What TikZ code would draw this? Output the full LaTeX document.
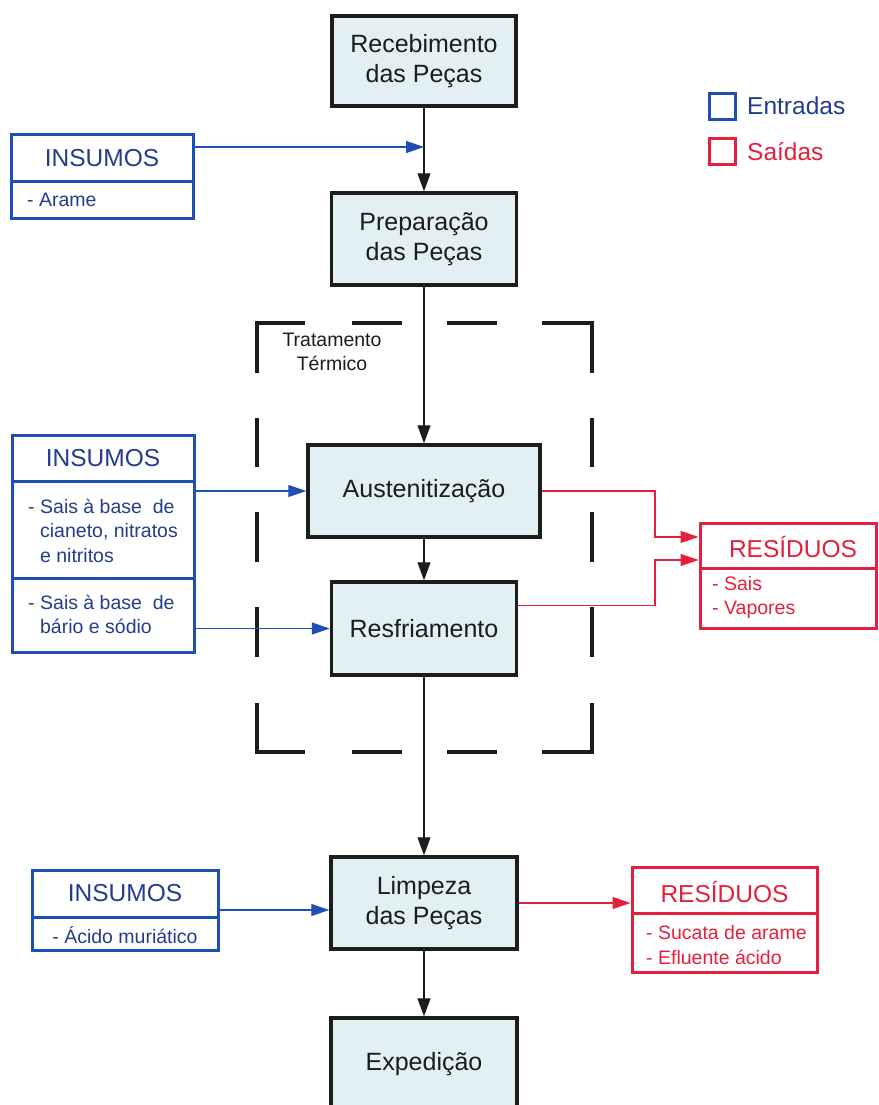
\documentclass[tikz,border=0pt]{standalone}
\usepackage{fontspec}
\setmainfont{Liberation Sans}
\usetikzlibrary{arrows.meta,calc}
\definecolor{inblue}{HTML}{1F4FB4}
\definecolor{intext}{HTML}{243C8C}
\definecolor{outred}{HTML}{E5203C}
\definecolor{procfill}{HTML}{E3F0F3}
\definecolor{ink}{HTML}{1C1C1C}
\begin{document}
\begin{tikzpicture}[x=1pt,y=-1pt,
  proc/.style={draw=ink, line width=3.5pt, fill=procfill, inner sep=0pt, align=center, text=ink,
    font=\fontsize{25}{30}\selectfont},
  inbox/.style={draw=inblue, line width=3pt, inner sep=0pt, fill=white},
  outbox/.style={draw=outred, line width=3pt, inner sep=0pt, fill=white},
  hdr/.style={inner sep=0pt, font=\fontsize{24.5}{28}\selectfont},
  body/.style={inner sep=0pt, align=left, font=\fontsize{19.5}{24.5}\selectfont},
  flow/.style={draw=ink, line width=1.2pt, -{Triangle[length=18pt,width=13pt]}},
  inflow/.style={draw=inblue, line width=1.2pt, -{Triangle[length=18pt,width=12pt]}},
  outflow/.style={draw=outred, line width=1.2pt, -{Triangle[length=18pt,width=12pt]}},
  frame/.style={draw=ink, line width=4pt, line join=miter},
  divin/.style={draw=inblue, line width=3pt},
  divout/.style={draw=outred, line width=3pt}
]
\useasboundingbox (0,0) rectangle (878,1105);
\fill[white] (0,0) rectangle (878,1105);
\clip (0,0) rectangle (878,1105);

% process boxes
\node[proc, minimum width=184pt, minimum height=90pt] (rec) at (424,61) {Recebimento\\das Peças};
\node[proc, minimum width=185pt, minimum height=92pt] (prep) at (424,239) {Preparação\\das Peças};
\node[proc, minimum width=232pt, minimum height=92pt] (aus) at (424,491) {Austenitização};
\node[proc, minimum width=185pt, minimum height=93pt] (res) at (424,628.5) {Resfriamento};
\node[proc, minimum width=186pt, minimum height=92pt] (limp) at (424,903) {Limpeza\\das Peças};
\node[proc, minimum width=186pt, minimum height=92pt] (exp) at (424,1064) {Expedição};

% dashed frame (Tratamento Térmico)
\draw[frame] (257,373) -- (257,323) -- (305,323);
\draw[frame] (352,323) -- (402,323);
\draw[frame] (447,323) -- (497,323);
\draw[frame] (542,323) -- (592,323) -- (592,373);
\draw[frame] (257,418) -- (257,467);
\draw[frame] (257,512) -- (257,562);
\draw[frame] (257,607) -- (257,657);
\draw[frame] (592,418) -- (592,467);
\draw[frame] (592,512) -- (592,562);
\draw[frame] (592,607) -- (592,657);
\draw[frame] (257,703) -- (257,752) -- (305,752);
\draw[frame] (352,752) -- (402,752);
\draw[frame] (447,752) -- (497,752);
\draw[frame] (542,752) -- (592,752) -- (592,703);
\node[body, align=center, text=ink] (tt) at (332,352) {Tratamento\\Térmico};

% INSUMOS 1
\node[inbox, minimum width=182pt, minimum height=83pt] (ins1) at (102,176.5) {};
\draw[divin] (ins1.west |- 0,181) -- (ins1.east |- 0,181);
\node[hdr, text=intext] (ins1h) at (102,158) {INSUMOS};
\node[body, text=intext, anchor=west] (ins1b) at (27,200) {- Arame};

% INSUMOS 2
\node[inbox, minimum width=182pt, minimum height=217pt] (ins2) at (103,543.5) {};
\draw[divin] (ins2.west |- 0,481) -- (ins2.east |- 0,481);
\draw[divin] (ins2.west |- 0,578) -- (ins2.east |- 0,578);
\node[hdr, text=intext] (ins2h) at (103,458) {INSUMOS};
\node[body, text=intext, anchor=west] (ins2b) at (28,533)
  {\begin{tabular}{@{}l@{\hspace{0.28em}}l@{}}-&Sais à base\ \ de\\ &cianeto, nitratos\\ &e nitritos\end{tabular}};
\node[body, text=intext, anchor=west] (ins2c) at (28,616.5)
  {\begin{tabular}{@{}l@{\hspace{0.28em}}l@{}}-&Sais à base\ \ de\\ &bário e sódio\end{tabular}};

% INSUMOS 3
\node[inbox, minimum width=186pt, minimum height=80pt] (ins3) at (125,910) {};
\draw[divin] (ins3.west |- 0,917) -- (ins3.east |- 0,917);
\node[hdr, text=intext] (ins3h) at (125,893) {INSUMOS};
\node[body, text=intext] (ins3b) at (125,935) {- Ácido muriático};

% RESIDUOS 1
\node[outbox, minimum width=176pt, minimum height=105pt] (res1) at (788,575.5) {};
\draw[divout] (res1.west |- 0,568) -- (res1.east |- 0,568);
\node[hdr, text=outred] (res1h) at (793,547) {RESÍDUOS};
\node[body, text=outred, anchor=west, align=left] (res1b) at (712,597.5) {- Sais\\- Vapores};

% RESIDUOS 2
\node[outbox, minimum width=185pt, minimum height=105pt] (res2) at (724.5,919.5) {};
\draw[divout] (res2.west |- 0,913) -- (res2.east |- 0,913);
\node[hdr, text=outred] (res2h) at (724.5,892) {RESÍDUOS};
\node[body, text=outred, anchor=west, align=left] (res2b) at (646,945) {- Sucata de arame\\- Efluente ácido};

% legend
\node[draw=inblue, line width=3pt, minimum width=26pt, minimum height=26pt, inner sep=0pt] (lgin) at (722.5,106.5) {};
\node[hdr, text=intext, anchor=west] (lgint) at (747,106) {Entradas};
\node[draw=outred, line width=3pt, minimum width=26pt, minimum height=26pt, inner sep=0pt] (lgout) at (722.5,151.5) {};
\node[hdr, text=outred, anchor=west] (lgoutt) at (747,152) {Saídas};

% main flow
\coordinate (j1) at ($(rec.south)!0.47!(prep.north)$);
\draw[flow] (rec.south) -- (prep.north);
\draw[flow] (prep.south) -- (aus.north);
\draw[flow] (aus.south) -- (res.north);
\draw[flow] (res.south) -- (limp.north);
\draw[flow] (limp.south) -- (exp.north);

% inputs
\draw[inflow] (ins1.east |- j1) -- (j1);
\draw[inflow] (ins2.east |- aus.west) -- (aus.west);
\draw[inflow] (ins2.east |- res.west) -- (res.west);
\draw[inflow] (ins3.east) -- (ins3.east -| limp.west);

% outputs
\coordinate (rx) at (655,0);
\coordinate (t1) at ([yshift=-15.5pt]res1.north west);
\coordinate (t2) at ([yshift=-38.5pt]res1.north west);
\coordinate (s2) at ([yshift=-25pt]res.north east);
\draw[outflow] (aus.east) -- (aus.east -| rx) |- (t1);
\draw[outflow] (s2) -- (s2 -| rx) |- (t2);
\draw[outflow] (limp.east) -- (limp.east -| res2.west);
\end{tikzpicture}
\end{document}
